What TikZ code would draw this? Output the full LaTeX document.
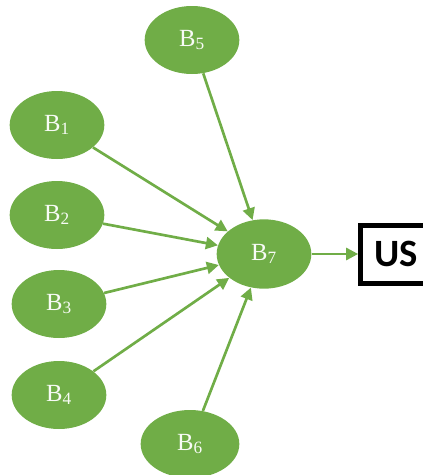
\documentclass[tikz,border=0pt]{standalone}
\usepackage{fontspec}
\setmainfont{Liberation Serif}
\newfontfamily\boxfont{Carlito}
\usetikzlibrary{shapes.geometric,arrows.meta}
\definecolor{leafgreen}{RGB}{112,173,71}
\begin{document}
\begin{tikzpicture}[
    x=0.75pt, y=-0.75pt,
    blob/.style={ellipse, fill=leafgreen, text=white!95!leafgreen,
      minimum width=71pt, minimum height=51pt, inner sep=0pt,
      font=\fontsize{18.5}{18.5}\selectfont},
    outbox/.style={draw=black, line width=3.75pt, minimum width=53pt,
      minimum height=43.5pt, inner sep=0pt,
      font=\boxfont\bfseries\fontsize{29}{29}\selectfont},
    link/.style={-{Triangle[length=9pt,width=9pt]}, leafgreen, line width=2pt}]
  \path[use as bounding box, clip] (0,0) rectangle (423,475);
%  \draw [red] (0,0) rectangle (423,475);

  \node [blob] (b5) at (192,40) {B\textsubscript{5}};
  \node [blob] (b1) at (57,125) {B\textsubscript{1}};
  \node [blob] (b2) at (57,215) {B\textsubscript{2}};
  \node [blob] (b3) at (59,304) {B\textsubscript{3}};
  \node [blob] (b4) at (59,395) {B\textsubscript{4}};
  \node [blob, minimum width=74pt] (b6) at (190,444) {B\textsubscript{6}};
  \node [blob, minimum height=52pt] (b7) at (264,254) {B\textsubscript{7}};
  \node [outbox] (us) at (396,254) {US};

  \foreach \src in {b1,b2,b3,b4,b5,b6}
    \draw [link] (\src) -- (b7);
  \draw [link] (b7) -- (us);
\end{tikzpicture}
\end{document}
